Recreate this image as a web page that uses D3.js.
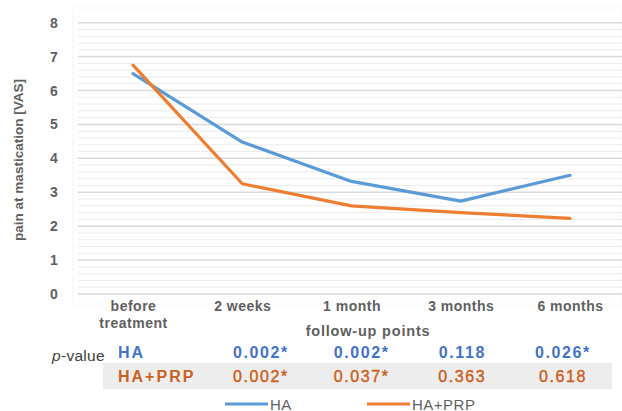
<!DOCTYPE html>
<html>
<head>
<meta charset="utf-8">
<script src="https://cdn.jsdelivr.net/npm/d3@7"></script>
<style>
  html, body { margin: 0; padding: 0; background: #fff; }
  svg { display: block; font-family: "Liberation Sans", Arial, sans-serif; }
</style>
</head>
<body>
<svg id="chart" width="622" height="411"></svg>
<script>
// ---- data ----
const categories = ["before treatment", "2 weeks", "1 month", "3 months", "6 months"];
const haValues = [6.5, 4.48, 3.32, 2.74, 3.5];
const haPrpValues = [6.75, 3.25, 2.6, 2.4, 2.23];
const yTicks = [0, 1, 2, 3, 4, 5, 6, 7, 8];
const pColumns = ["2 weeks", "1 month", "3 months", "6 months"];
const pHA = ["0.002*", "0.002*", "0.118", "0.026*"];
const pHAPRP = ["0.002*", "0.037*", "0.363", "0.618"];
const seriesNames = ["HA", "HA+PRP"];

// ---- layout ----
const svg = d3.select("#chart");
const W = 622, H = 411;
const plotLeft = 78, plotRight = 622, plotTop = 22.7, plotBottom = 294;
const colors = { HA: "#5B9BD5", "HA+PRP": "#ED7D31" };
const textColors = { HA: "#4472C4", "HA+PRP": "#C8621F" };
const valueWeights = { HA: "bold", "HA+PRP": "normal" };
const valueStroke = { HA: 0, "HA+PRP": 0.45 };
const grey = "#5f5f5f";

const x = d3.scalePoint().domain(categories).range([133, 570]);
const y = d3.scaleLinear().domain([0, 8]).range([plotBottom, plotTop]);

// faint plot frame
svg.append("rect").attr("x", 73).attr("y", 8).attr("width", W - 73).attr("height", 296)
  .attr("fill", "none").attr("stroke", "#f6f6f6");

// minor gridlines
const minorTicks = d3.range(0, 8.0001, 0.2).filter(v => Math.abs(v - Math.round(v)) > 1e-6);
svg.append("g").selectAll("line").data(minorTicks).join("line")
  .attr("x1", plotLeft).attr("x2", plotRight)
  .attr("y1", d => y(d)).attr("y2", d => y(d))
  .attr("stroke", "#ebebeb").attr("stroke-width", 1);

// major gridlines
svg.append("g").selectAll("line").data(yTicks).join("line")
  .attr("x1", plotLeft).attr("x2", plotRight)
  .attr("y1", d => y(d)).attr("y2", d => y(d))
  .attr("stroke", "#d9d9d9").attr("stroke-width", 1.5);

// y axis labels
const yAxis = d3.axisLeft(y).tickValues(yTicks).tickSize(0).tickPadding(0).tickFormat(d3.format("d"));
const yg = svg.append("g").attr("transform", `translate(61,0)`).call(yAxis);
yg.select(".domain").remove();
yg.selectAll("text").attr("fill", grey).attr("font-size", 14).attr("font-weight", "bold")
  .attr("text-anchor", "middle").attr("x", -7);

// y axis title
svg.append("text")
  .attr("transform", `translate(23,160) rotate(-90)`)
  .attr("text-anchor", "middle").attr("fill", grey)
  .attr("font-size", 13.5).attr("font-weight", "bold")
  .text("pain at mastication [VAS]");

// x axis labels
const xAxis = d3.axisBottom(x).tickSize(0).tickPadding(0);
const xg = svg.append("g").attr("transform", `translate(0,${plotBottom})`).call(xAxis);
xg.select(".domain").remove();
xg.selectAll("text").remove();
xg.selectAll(".tick").each(function(d) {
  const t = d3.select(this).append("text")
    .attr("text-anchor", "middle").attr("fill", grey)
    .attr("font-size", 14).attr("font-weight", "bold").attr("letter-spacing", 0.5);
  const parts = d === "before treatment" ? ["before", "treatment"] : [d];
  parts.forEach((p, i) => t.append("tspan").attr("x", 0).attr("y", 17 + i * 17).text(p));
});

// x axis title
svg.append("text").attr("x", 368).attr("y", 336)
  .attr("text-anchor", "middle").attr("fill", grey)
  .attr("font-size", 14.5).attr("font-weight", "bold").attr("letter-spacing", 0.8)
  .text("follow-up points");

// lines
const line = d3.line().x((d, i) => x(categories[i])).y(d => y(d));
[[haValues, "HA"], [haPrpValues, "HA+PRP"]].forEach(([vals, name]) => {
  svg.append("path").datum(vals)
    .attr("d", line).attr("fill", "none")
    .attr("stroke", colors[name]).attr("stroke-width", 3.2)
    .attr("stroke-linejoin", "round").attr("stroke-linecap", "round");
});

// p-value table
const tx = d3.scalePoint().domain(pColumns).range([261, 563]);
svg.append("rect").attr("x", 103).attr("y", 363).attr("width", 509).attr("height", 26)
  .attr("fill", "#ededed");

const pv = svg.append("text").attr("x", 52).attr("y", 361)
  .attr("fill", "#404040").attr("font-size", 15.5).attr("letter-spacing", 0.3);
pv.append("tspan").attr("font-style", "italic").text("p");
pv.append("tspan").text("-value");

const rows = [[pHA, "HA", 358], [pHAPRP, "HA+PRP", 382]];
rows.forEach(([vals, name, yy]) => {
  svg.append("text").attr("x", 118).attr("y", yy)
    .attr("fill", textColors[name]).attr("font-size", 16).attr("font-weight", "bold")
    .attr("letter-spacing", 2)
    .text(name);
  svg.append("g").selectAll("text").data(vals).join("text")
    .attr("x", (d, i) => tx(pColumns[i])).attr("y", yy)
    .attr("text-anchor", "middle").attr("fill", textColors[name])
    .attr("stroke", textColors[name]).attr("stroke-width", valueStroke[name])
    .attr("font-size", 16).attr("font-weight", valueWeights[name]).attr("letter-spacing", 1.6)
    .text(d => d);
});

// legend
const legendX = d3.scalePoint().domain(seriesNames).range([225, 367]);
seriesNames.forEach(name => {
  const lx = legendX(name);
  svg.append("line").attr("x1", lx).attr("x2", lx + 43).attr("y1", 404).attr("y2", 404)
    .attr("stroke", colors[name]).attr("stroke-width", 3.2);
  svg.append("text").attr("x", lx + 45).attr("y", 409.5)
    .attr("fill", grey).attr("font-size", 15).attr("letter-spacing", 0.5).text(name);
});
</script>
</body>
</html>
